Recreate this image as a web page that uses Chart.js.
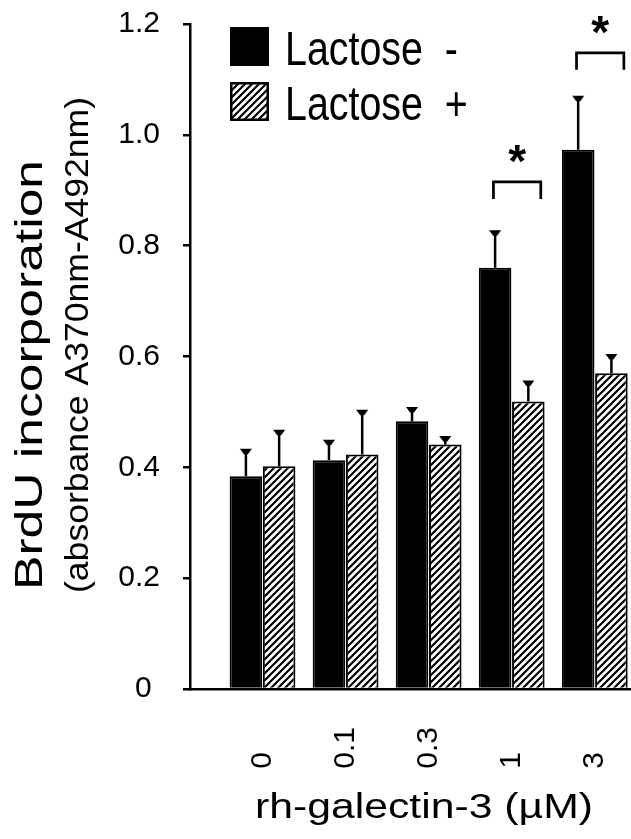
<!DOCTYPE html>
<html>
<head>
<meta charset="utf-8">
<script src="https://cdn.jsdelivr.net/npm/chart.js@4.4.1/dist/chart.umd.min.js"></script>
<style>
    html, body { margin: 0; padding: 0; background: #fff; overflow: hidden; }
    #contenedor { width: 631px; height: 839px; position: relative; }
</style>
</head>
<body>
<div id="contenedor"><canvas id="graficoPrincipal"></canvas></div>
<script>
const dosis = ['0', '0.1', '0.3', '1', '3']
const sinLactosa = [0.384, 0.413, 0.483, 0.760, 0.973]
const sinLactosaError = [0.047, 0.034, 0.023, 0.065, 0.095]
const conLactosa = [0.402, 0.423, 0.441, 0.519, 0.570]
const conLactosaError = [0.063, 0.078, 0.013, 0.035, 0.032]
const marcasY = [0, 0.2, 0.4, 0.6, 0.8, 1.0, 1.2]
const gruposSignificativos = [3, 4]
const alturaCorchete = [0.915, 1.148]

Chart.defaults.font.family = '"Liberation Sans", Arial, sans-serif'
Chart.defaults.color = '#000'

const lienzo = document.getElementById('graficoPrincipal')

const rayado = (() => {
    const c = document.createElement('canvas')
    c.width = 7
    c.height = 7
    const g = c.getContext('2d')
    g.fillStyle = '#fff'
    g.fillRect(0, 0, 7, 7)
    g.strokeStyle = '#000'
    g.lineWidth = 2.2
    g.beginPath()
    g.moveTo(-1, 8); g.lineTo(8, -1)
    g.moveTo(-1, 1); g.lineTo(1, -1)
    g.moveTo(6, 8); g.lineTo(8, 6)
    g.stroke()
    return lienzo.getContext('2d').createPattern(c, 'repeat')
})()

// texto escalado en el sentido de la lectura (la figura original esta estirada)
const textoEstirado = (g, texto, fuente, x, y, escala, vertical, alinear) => {
    g.save()
    g.font = fuente
    g.translate(x, y)
    if (vertical) g.rotate(-Math.PI / 2)
    g.scale(escala, 1)
    g.textAlign = alinear || 'center'
    g.textBaseline = 'alphabetic'
    g.fillStyle = '#000'
    g.fillText(texto, 0, 0)
    g.restore()
}

const escalaPara = (g, texto, fuente, largo) => {
    g.save()
    g.font = fuente
    const ancho = g.measureText(texto).width
    g.restore()
    return largo / ancho
}

const barrasError = {
    id: 'barrasError',
    afterDatasetsDraw(chart) {
        const g = chart.ctx
        const ejeY = chart.scales.y
        g.save()
        g.fillStyle = '#000'
        g.strokeStyle = '#000'
        chart.data.datasets.forEach((ds, d) => {
            chart.getDatasetMeta(d).data.forEach((barra, i) => {
                const tope = ejeY.getPixelForValue(ds.data[i].y + ds.errores[i])
                g.lineWidth = 2.5
                g.beginPath()
                g.moveTo(barra.x, barra.y)
                g.lineTo(barra.x, tope)
                g.stroke()
                g.beginPath()
                g.moveTo(barra.x - 6, tope - 1.5)
                g.lineTo(barra.x + 6, tope - 1.5)
                g.lineTo(barra.x + 2, tope + 4)
                g.lineTo(barra.x - 2, tope + 4)
                g.closePath()
                g.fill()
            })
        })
        g.restore()
    }
}

const asteriscos = {
    id: 'asteriscos',
    afterDatasetsDraw(chart) {
        const g = chart.ctx
        const ejeX = chart.scales.x
        const ejeY = chart.scales.y
        g.save()
        g.strokeStyle = '#000'
        g.fillStyle = '#000'
        g.lineWidth = 2.7
        gruposSignificativos.forEach((grupo, k) => {
            const x1 = ejeX.getPixelForValue(grupo - 0.22)
            const x2 = ejeX.getPixelForValue(grupo + 0.35)
            const y = ejeY.getPixelForValue(alturaCorchete[k])
            g.beginPath()
            g.moveTo(x1, y + 17)
            g.lineTo(x1, y)
            g.lineTo(x2, y)
            g.lineTo(x2, y + 17)
            g.stroke()
            g.font = 'bold 46px "Liberation Sans"'
            g.textAlign = 'center'
            g.textBaseline = 'alphabetic'
            const m = g.measureText('*')
            const centro = y - 28
            g.fillText('*', (x1 + x2) / 2, centro + (m.actualBoundingBoxAscent - m.actualBoundingBoxDescent) / 2)
        })
        g.restore()
    }
}

const leyenda = {
    id: 'leyenda',
    afterDraw(chart) {
        const g = chart.ctx
        const area = chart.chartArea
        g.save()
        chart.data.datasets.forEach((ds, i) => {
            const x = area.left + 40
            const y = 27 + i * 55
            g.fillStyle = ds.backgroundColor
            g.fillRect(x, y, 39, 39)
            g.strokeStyle = '#000'
            g.lineWidth = 2.5
            g.strokeRect(x + 1.25, y + 1.25, 36.5, 36.5)
            textoEstirado(g, ds.label, '48px "Liberation Sans"', x + 55, y + 38, 0.82, false, 'left')
        })
        g.restore()
    }
}

const titulos = {
    id: 'titulos',
    afterDraw(chart) {
        const g = chart.ctx
        const area = chart.chartArea
        const t1 = 'BrdU incorporation'
        const t2 = '(absorbance A370nm-A492nm)'
        const t3 = 'rh-galectin-3 (\u00b5M)'
        const f1 = '38px "Liberation Sans"'
        const f2 = '34px "Liberation Sans"'
        const f3 = '35px "Liberation Sans"'
        textoEstirado(g, t1, f1, 42, 375, escalaPara(g, t1, f1, 430), true)
        textoEstirado(g, t2, f2, 88, 345, escalaPara(g, t2, f2, 496), true)
        textoEstirado(g, t3, f3, 424, area.bottom + 129, escalaPara(g, t3, f3, 338), false)
    }
}

new Chart(lienzo, {
    type: 'bar',
    data: {
        datasets: [
            {
                label: 'Lactose  -',
                data: sinLactosa.map((v, i) => ({ x: i, y: v })),
                errores: sinLactosaError,
                backgroundColor: '#000',
                borderColor: '#000',
                borderWidth: 2,
                categoryPercentage: 0.8,
                barPercentage: 0.98
            }, {
                label: 'Lactose  +',
                data: conLactosa.map((v, i) => ({ x: i, y: v })),
                errores: conLactosaError,
                backgroundColor: rayado,
                borderColor: '#000',
                borderWidth: 2,
                categoryPercentage: 0.8,
                barPercentage: 0.98
            }
        ]
    },
    options: {
        responsive: true,
        maintainAspectRatio: false,
        animation: false,
        events: [],
        layout: { padding: { top: 24, left: 0, right: 0, bottom: 0 } },
        plugins: {
            legend: { display: false },
            tooltip: { enabled: false }
        },
        scales: {
            x: {
                type: 'linear',
                min: -0.873,
                max: 4.436,
                offset: false,
                grid: { offset: false, drawOnChartArea: false, drawTicks: false },
                border: { color: '#000', width: 2.5 },
                afterBuildTicks: eje => { eje.ticks = dosis.map((d, i) => ({ value: i })) },
                afterFit: eje => {
                    eje.height = 150
                    eje.paddingLeft = 0
                    eje.paddingRight = 0
                },
                ticks: {
                    autoSkip: false,
                    minRotation: 90,
                    maxRotation: 90,
                    padding: 38,
                    font: { size: 30 },
                    callback: v => dosis[v].length === 1 ? dosis[v] + '   ' : dosis[v]
                }
            },
            y: {
                min: 0,
                max: 1.2,
                afterBuildTicks: eje => { eje.ticks = marcasY.map(v => ({ value: v })) },
                afterFit: eje => {
                    eje.width = 190
                    eje.paddingTop = 0
                    eje.paddingBottom = 0
                },
                grid: { drawOnChartArea: false, drawTicks: true, tickLength: 7, color: '#000', lineWidth: 2.5 },
                border: { color: '#000', width: 2.5 },
                ticks: {
                    padding: 23,
                    font: { size: 30 },
                    callback: v => v === 0 ? '0 ' : v.toFixed(1)
                }
            }
        }
    },
    plugins: [barrasError, asteriscos, leyenda, titulos]
})
</script>
</body>
</html>
